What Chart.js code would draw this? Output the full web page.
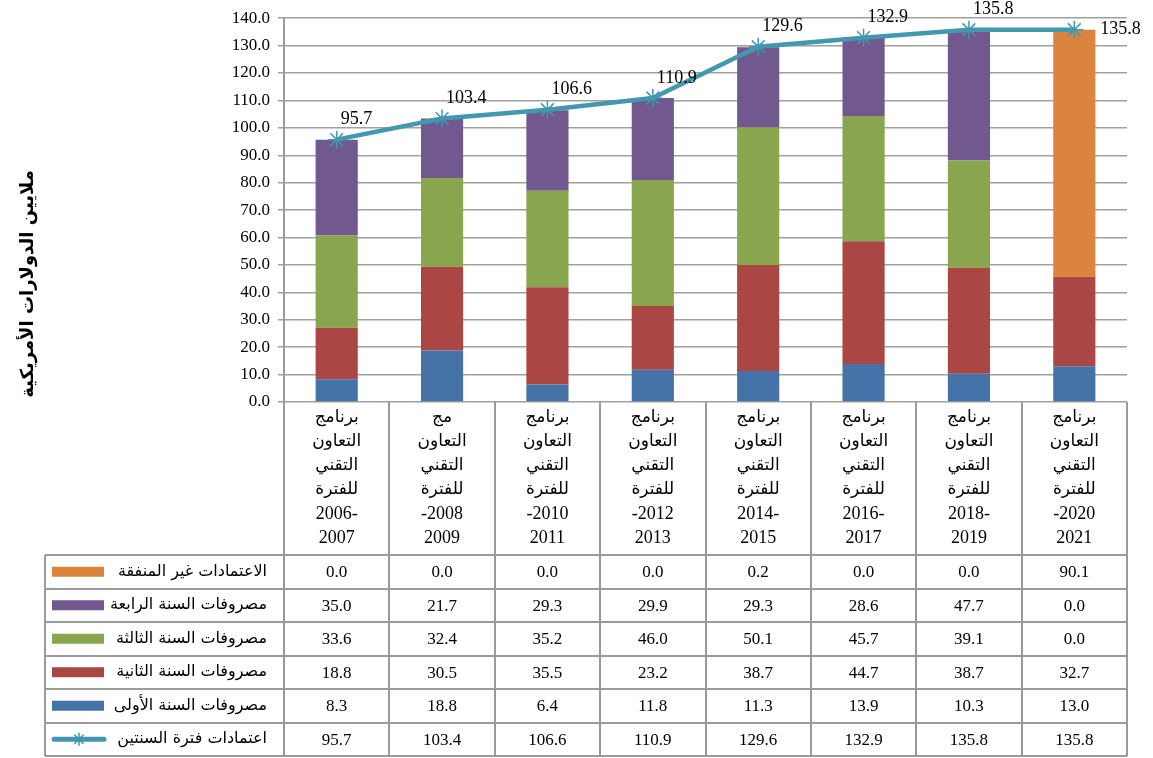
<!DOCTYPE html>
<html>
<head>
<meta charset="utf-8">
<script src="https://cdn.jsdelivr.net/npm/chart.js@4"></script>
<style>
  body { margin: 0; background: #fff; }
</style>
</head>
<body>
<canvas id="myChart" width="1153" height="758"></canvas>
<script>
// categories (one line per entry, as printed under each bar)
const periods = [
  ['برنامج', 'التعاون', 'التقني', 'للفترة', '2006-', '2007'],
  ['مج', 'التعاون', 'التقني', 'للفترة', '-2008', '2009'],
  ['برنامج', 'التعاون', 'التقني', 'للفترة', '-2010', '2011'],
  ['برنامج', 'التعاون', 'التقني', 'للفترة', '-2012', '2013'],
  ['برنامج', 'التعاون', 'التقني', 'للفترة', '2014-', '2015'],
  ['برنامج', 'التعاون', 'التقني', 'للفترة', '2016-', '2017'],
  ['برنامج', 'التعاون', 'التقني', 'للفترة', '2018-', '2019'],
  ['برنامج', 'التعاون', 'التقني', 'للفترة', '-2020', '2021']
];

// series
const firstYear  = [8.3, 18.8, 6.4, 11.8, 11.3, 13.9, 10.3, 13.0];
const secondYear = [18.8, 30.5, 35.5, 23.2, 38.7, 44.7, 38.7, 32.7];
const thirdYear  = [33.6, 32.4, 35.2, 46.0, 50.1, 45.7, 39.1, 0.0];
const fourthYear = [35.0, 21.7, 29.3, 29.9, 29.3, 28.6, 47.7, 0.0];
const unspent    = [0.0, 0.0, 0.0, 0.0, 0.2, 0.0, 0.0, 90.1];
const biennium   = [95.7, 103.4, 106.6, 110.9, 129.6, 132.9, 135.8, 135.8];

const yTitle = 'ملايين الدولارات الأمريكية';

const serif = '"Liberation Serif", "Times New Roman", serif';
const arabic = '"DejaVu Sans", Arial, sans-serif';

// table under the plot
const tablePlugin = {
  id: 'dataTable',
  afterDraw(chart) {
    const ctx = chart.ctx;
    const a = chart.chartArea;
    const x = chart.scales.x;
    const n = chart.data.labels.length;
    const step = x.getPixelForValue(1) - x.getPixelForValue(0);
    const catBottom = 555;
    const rowH = 33.5;
    const tableLeft = 45;

    // rows: top to bottom in the table
    const rows = [4, 3, 2, 1, 0, 5].map(i => chart.data.datasets[i]);
    const bottom = catBottom + rows.length * rowH;

    ctx.save();
    ctx.strokeStyle = '#9a9a9a';
    ctx.lineWidth = 2;
    ctx.beginPath();
    for (let i = 0; i <= n; i++) {
      const px = Math.round(x.getPixelForValue(i) - step / 2);
      ctx.moveTo(px, a.bottom);
      ctx.lineTo(px, bottom);
    }
    ctx.moveTo(tableLeft, catBottom);
    ctx.lineTo(tableLeft, bottom);
    for (let r = 0; r <= rows.length; r++) {
      const py = Math.round(catBottom + r * rowH);
      ctx.moveTo(tableLeft, py);
      ctx.lineTo(a.right, py);
    }
    ctx.stroke();

    // category labels
    ctx.fillStyle = '#000';
    ctx.textAlign = 'center';
    ctx.textBaseline = 'middle';
    chart.data.labels.forEach((lines, i) => {
      const cx = x.getPixelForValue(i);
      lines.forEach((t, j) => {
        ctx.font = /\d/.test(t) ? '18px ' + serif : '17px ' + arabic;
        ctx.fillText(t, cx, 418 + j * 24);
      });
    });

    // rows
    rows.forEach((ds, r) => {
      const cy = catBottom + r * rowH + rowH / 2;
      // legend key
      if (ds.type === 'line') {
        ctx.strokeStyle = ds.borderColor;
        ctx.lineWidth = 5;
        ctx.lineCap = 'round';
        ctx.beginPath();
        ctx.moveTo(54, cy);
        ctx.lineTo(104, cy);
        ctx.stroke();
        ctx.lineWidth = 1.5;
        ctx.beginPath();
        for (let k = 0; k < 4; k++) {
          const ang = k * Math.PI / 4;
          ctx.moveTo(79 - Math.cos(ang) * 6, cy - Math.sin(ang) * 6);
          ctx.lineTo(79 + Math.cos(ang) * 6, cy + Math.sin(ang) * 6);
        }
        ctx.stroke();
      } else {
        ctx.fillStyle = ds.backgroundColor;
        ctx.fillRect(52, cy - 5, 52, 10);
      }
      ctx.fillStyle = '#000';
      ctx.font = '16px ' + arabic;
      ctx.textAlign = 'right';
      ctx.fillText(ds.label, 267, cy);
      // values
      ctx.font = '17px ' + serif;
      ctx.textAlign = 'center';
      ds.data.forEach((v, i) => {
        ctx.fillText(v.toFixed(1), x.getPixelForValue(i), cy + 1);
      });
    });

    // y axis title
    ctx.translate(28, 284);
    ctx.rotate(-Math.PI / 2);
    ctx.font = 'bold 18px ' + arabic;
    ctx.textAlign = 'center';
    ctx.fillText(yTitle, 0, 0);
    ctx.restore();
  }
};

// value labels on the line
const lineLabels = {
  id: 'lineLabels',
  afterDatasetsDraw(chart) {
    const ctx = chart.ctx;
    const meta = chart.getDatasetMeta(5);
    const ds = chart.data.datasets[5];
    ctx.save();
    ctx.fillStyle = '#000';
    ctx.font = '18px ' + serif;
    ctx.textAlign = 'left';
    ctx.textBaseline = 'middle';
    meta.data.forEach((pt, i) => {
      const last = i === meta.data.length - 1;
      const dx = last ? 26 : 4;
      const dy = last ? 0 : -20;
      ctx.fillText(ds.data[i].toFixed(1), pt.x + dx, pt.y + dy);
    });
    ctx.restore();
  }
};

const ctx = document.getElementById('myChart').getContext('2d');

const barDefaults = { barPercentage: 0.4, categoryPercentage: 1, order: 1, stack: 'bars' };

const myChart = new Chart(ctx, {
  type: 'bar',
  data: {
    labels: periods,
    datasets: [
      { label: 'مصروفات السنة الأولى', data: firstYear, backgroundColor: '#4572A7', ...barDefaults },
      { label: 'مصروفات السنة الثانية', data: secondYear, backgroundColor: '#AA4643', ...barDefaults },
      { label: 'مصروفات السنة الثالثة', data: thirdYear, backgroundColor: '#89A54E', ...barDefaults },
      { label: 'مصروفات السنة الرابعة', data: fourthYear, backgroundColor: '#71588F', ...barDefaults },
      { label: 'الاعتمادات غير المنفقة', data: unspent, backgroundColor: '#DB843D', ...barDefaults },
      {
        type: 'line',
        label: 'اعتمادات فترة السنتين',
        data: biennium,
        stack: 'line',
        order: 0,
        borderColor: '#4198AF',
        backgroundColor: '#4198AF',
        borderWidth: 4.5,
        pointStyle: 'star',
        pointRadius: 9,
        pointBorderWidth: 1.5,
        pointBorderColor: '#4198AF',
        tension: 0
      }
    ]
  },
  options: {
    responsive: false,
    animation: false,
    layout: { padding: { top: 13, right: 26, bottom: 356, left: 0 } },
    plugins: {
      legend: { display: false },
      tooltip: { enabled: false }
    },
    scales: {
      x: { display: false, stacked: true },
      y: {
        stacked: true,
        min: 0,
        max: 140,
        afterFit(scale) { scale.width = 284; },
        ticks: {
          stepSize: 10,
          color: '#000',
          padding: 8,
          font: { family: serif, size: 17 },
          callback: v => v.toFixed(1)
        },
        grid: { color: '#a0a0a0', lineWidth: 1.5, tickLength: 6 },
        border: { color: '#9a9a9a', width: 2 }
      }
    }
  },
  plugins: [tablePlugin, lineLabels]
});
</script>
</body>
</html>
